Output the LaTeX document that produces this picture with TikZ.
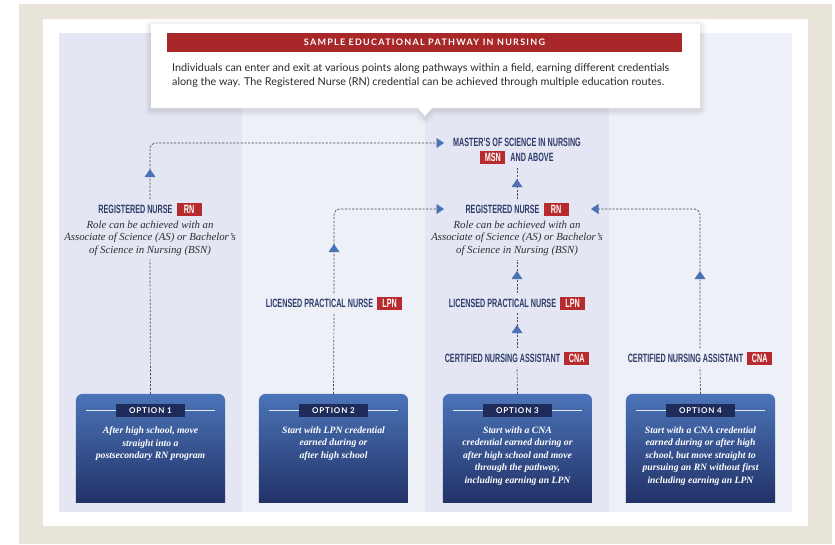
\documentclass[tikz,border=0pt]{standalone}
\usepackage{fontspec}
\usetikzlibrary{arrows.meta}
\setmainfont{Liberation Serif}
\newfontfamily\hdfont{Lato}
\newfontfamily\condfont[FakeStretch=0.6]{Liberation Sans}
\newfontfamily\descfont{Liberation Serif}
\definecolor{beige}{HTML}{E8E4DA}
\definecolor{coldark}{HTML}{E4E7F3}
\definecolor{collight}{HTML}{EEF0F7}
\definecolor{hdred}{HTML}{A8282A}
\definecolor{badgered}{HTML}{B72B2E}
\definecolor{navy}{HTML}{2E3B6B}
\definecolor{triblue}{HTML}{4A72B5}
\definecolor{dashgray}{HTML}{4A4A4A}
\definecolor{optlabel}{HTML}{1F2B5A}
\definecolor{opttop}{HTML}{4B74B8}
\definecolor{optmid}{HTML}{3A5EA2}
\definecolor{optbot}{HTML}{1F2D61}
\definecolor{desccol}{HTML}{2E2E2E}
\definecolor{bodytext}{HTML}{2A2A2A}
\newcommand\badge[1]{{\setlength{\fboxsep}{0pt}\colorbox{badgered}{\rule[-2.5pt]{0pt}{13pt}\makebox[25pt]{\color{white}\fontsize{12}{12}\condfont\bfseries #1}}}}
\newcommand\uptri[2]{\fill[triblue] (#1-5.5,#2+4) -- (#1+5.5,#2+4) -- (#1,#2-4) -- cycle;}
\newcommand\optbox[4]{%
  \node[optshape] (#1) at (#2,448) {};
  \begin{scope}
    \clip (#1.north west) rectangle (#1.south east);
    \shade[top color=opttop, middle color=optmid, bottom color=optbot, rounded corners=7pt] (#1.north west) rectangle ([yshift=-9pt]#1.south east);
  \end{scope}
  \draw[optrule] (#2-64.5,410.5) -- (#2-34.5,410.5);
  \draw[optrule] (#2+34.5,410.5) -- (#2+64.5,410.5);
  \node[optlbl] (#1l) at (#2,410.5) {OPTION #3};
  \node[opttext, anchor=north] (#1t) at (#2,426.5) {#4};
}
\begin{document}
\begin{tikzpicture}[x=1pt, y=-1pt,
  lbl/.style={font=\fontsize{12}{13}\condfont\bfseries, text=navy, inner sep=0pt, align=center},
  desc/.style={font=\fontsize{10.8}{12.5}\descfont\itshape, text=desccol, align=center, inner sep=0pt},
  conn/.style={draw=dashgray, line width=0.7pt, dash pattern=on 2.2pt off 1.5pt},
  arr/.style={conn, -{Triangle[width=10pt,length=7.5pt,color=triblue]}},
  optshape/.style={minimum width=149pt, minimum height=108pt, inner sep=0pt},
  optrule/.style={draw=white!85!opttop, line width=0.8pt},
  optlbl/.style={fill=optlabel, text=white, minimum width=69pt, minimum height=13pt, inner sep=0pt, font=\fontsize{8}{8}\hdfont\bfseries\addfontfeatures{LetterSpace=10}},
  opttext/.style={text=white, align=center, inner sep=0pt, font=\fontsize{9.7}{12.5}\descfont\bfseries\itshape},
]
\useasboundingbox (0,0) rectangle (835,544);
% background
\fill[white] (0,0) rectangle (835,544);
\fill[beige] (19,4) rectangle (832,544);
\fill[white] (43,19) rectangle (808,526);
\fill[coldark] (59,33) rectangle (242,512);
\fill[collight] (242,33) rectangle (425,512);
\fill[coldark] (425,33) rectangle (609,512);
\fill[collight] (609,33) rectangle (792,512);
% header card
\foreach \w/\o in {12/0.025, 8/0.03, 4/0.04}{
  \draw[black, opacity=\o, line width=\w pt, line join=round] (151,26) -- (700,26) -- (700,110) -- (432,110) -- (425,118) -- (418,110) -- (151,110) -- cycle;
}
\fill[white] (151,24) -- (700,24) -- (700,108) -- (432,108) -- (425,116) -- (418,108) -- (151,108) -- cycle;
\node[fill=hdred, text=white, minimum width=515pt, minimum height=19pt, inner sep=0pt, font=\fontsize{9}{9}\hdfont\bfseries\addfontfeatures{LetterSpace=14}] (title) at (424.5,42.5) {SAMPLE EDUCATIONAL PATHWAY IN NURSING};
\node[anchor=north west, inner sep=0pt, align=left, text=bodytext, font=\fontsize{10.8}{14}\hdfont] (intro) at (172,63.5) {Individuals can enter and exit at various points along pathways within a field, earning different credentials\\along the way. The Registered Nurse (RN) credential can be achieved through multiple education routes.};
% option boxes
\optbox{opt1}{150.5}{1}{After high school, move\\straight into a\\postsecondary RN program}
\optbox{opt2}{333.5}{2}{Start with LPN credential\\earned during or\\after high school}
\optbox{opt3}{517.5}{3}{Start with a CNA\\credential earned during or\\after high school and move\\through the pathway,\\including earning an LPN}
\optbox{opt4}{700.5}{4}{Start with a CNA credential\\earned during or after high\\school, but move straight to\\pursuing an RN without first\\including earning an LPN}
% labels
\node[lbl] (msn) at (517,151.5) {MASTER’S OF SCIENCE IN NURSING\\[2pt]\badge{MSN}\hspace{5pt}AND ABOVE};
\node[lbl] (rn1) at (150,209) {REGISTERED NURSE\hspace{4pt}\badge{RN}};
\node[desc] (rn1d) at (150,238) {Role can be achieved with an\\Associate of Science (AS) or Bachelor’s\\of Science in Nursing (BSN)};
\node[lbl] (rn3) at (517,209) {REGISTERED NURSE\hspace{4pt}\badge{RN}};
\node[desc] (rn3d) at (517,238) {Role can be achieved with an\\Associate of Science (AS) or Bachelor’s\\of Science in Nursing (BSN)};
\node[lbl] (lpn2) at (334,303) {LICENSED PRACTICAL NURSE\hspace{4pt}\badge{LPN}};
\node[lbl] (lpn3) at (517,303) {LICENSED PRACTICAL NURSE\hspace{4pt}\badge{LPN}};
\node[lbl] (cna3) at (517,358) {CERTIFIED NURSING ASSISTANT\hspace{4pt}\badge{CNA}};
\node[lbl] (cna4) at (700,358) {CERTIFIED NURSING ASSISTANT\hspace{4pt}\badge{CNA}};
\coordinate (msnL) at (444,143);
\coordinate (rn3L) at (444,209);
\coordinate (rn3R) at (591,209);
% connectors
\draw[conn] (opt1.north) -- ([yshift=-4pt]rn1d.south);
\draw[arr, shorten <=3pt, rounded corners=6pt] (rn1.north) -- (rn1.north |- msnL) -- (msnL);
\draw[conn] (opt2.north) -- ([yshift=-3pt]lpn2.south);
\draw[arr, shorten <=3pt, rounded corners=6pt] (lpn2.north) -- (lpn2.north |- rn3L) -- (rn3L);
\draw[conn] (opt3.north) -- ([yshift=-3pt]cna3.south);
\draw[conn, shorten <=3pt, shorten >=3pt] (cna3.north) -- (lpn3.south);
\draw[conn, shorten <=3pt, shorten >=4pt] (lpn3.north) -- (rn3d.south);
\draw[conn, shorten <=3pt, shorten >=3pt] (rn3.north) -- (msn.south);
\draw[conn] (opt4.north) -- ([yshift=-3pt]cna4.south);
\draw[arr, shorten <=3pt, rounded corners=6pt] (cna4.north) -- (cna4.north |- rn3R) -- (rn3R);
% markers
\uptri{150}{173}
\uptri{334}{248}
\uptri{517}{183}
\uptri{517}{275}
\uptri{517}{329}
\uptri{700}{275}
\end{tikzpicture}
\end{document}
